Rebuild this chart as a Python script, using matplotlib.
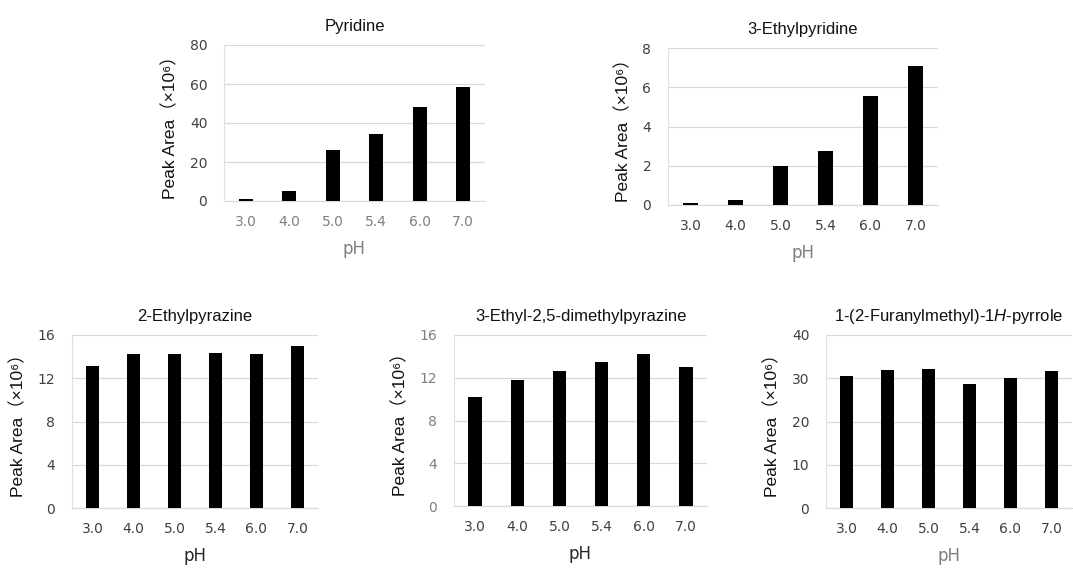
import matplotlib
matplotlib.use("Agg")
import matplotlib.pyplot as plt
import numpy as np

plt.rcParams['font.family'] = ['Liberation Sans', 'DejaVu Sans']
plt.rcParams['mathtext.fontset'] = 'custom'
plt.rcParams['mathtext.it'] = 'Liberation Sans:italic'
plt.rcParams['mathtext.rm'] = 'Liberation Sans'

# データ
ph_labels = ['3.0', '4.0', '5.0', '5.4', '6.0', '7.0']

pyridine = [1.2, 4.9, 25.9, 34.4, 48.2, 58.3]
ethylpyridine = [0.08, 0.24, 1.97, 2.75, 5.56, 7.08]
ethylpyrazine = [13.1, 14.2, 14.2, 14.35, 14.2, 14.95]
ethyl_dimethylpyrazine = [10.2, 11.75, 12.65, 13.5, 14.25, 13.05]
furanylmethyl_pyrrole = [30.5, 31.9, 32.05, 28.6, 29.95, 31.65]

titles = ['Pyridine', '3-Ethylpyridine', '2-Ethylpyrazine',
          '3-Ethyl-2,5-dimethylpyrazine', r'1-(2-Furanylmethyl)-1$\mathit{H}$-pyrrole']
series = [pyridine, ethylpyridine, ethylpyrazine, ethyl_dimethylpyrazine, furanylmethyl_pyrrole]
ymax = [80, 8, 16, 16, 40]
ystep = [20, 2, 4, 4, 10]

W, H = 1073, 568
# left, right, top, bottom (px)
boxes = [(224, 485, 45, 201), (668, 938, 48, 205),
         (72, 318, 335, 508), (454, 707, 335, 506), (826, 1072, 335, 508)]
xtick_col = ['#7f7f7f', '#404040', '#404040', '#404040', '#404040']
ytick_col = ['#404040', '#404040', '#404040', '#7f7f7f', '#404040']
ph_col = ['#7f7f7f', '#7f7f7f', '#262626', '#262626', '#7f7f7f']

fig = plt.figure(figsize=(W / 100, H / 100), dpi=100)

for i, (l, r, t, b) in enumerate(boxes):
    ax = fig.add_axes([l / W, 1 - b / H, (r - l) / W, (b - t) / H])
    x = np.arange(len(ph_labels))
    ax.bar(x, series[i], width=0.32, color='black', zorder=3)
    ax.set_xlim(-0.5, len(ph_labels) - 0.5)
    ax.set_ylim(0, ymax[i])
    ax.set_yticks(np.arange(0, ymax[i] + ystep[i] / 2, ystep[i]))
    ax.set_xticks(x)
    ax.set_xticklabels(ph_labels)
    ax.grid(axis='y', color='#d9d9d9', linewidth=0.9, zorder=0)
    for s in ['top', 'right']:
        ax.spines[s].set_visible(False)
    ax.spines['left'].set_color('#e0e0e0')
    ax.spines['bottom'].set_color('#d9d9d9')
    ax.tick_params(length=0, labelsize=10, pad=10)
    ax.tick_params(axis='y', pad=12)
    for lb in ax.get_xticklabels():
        lb.set_color(xtick_col[i])
        lb.set_family('DejaVu Sans')
    for lb in ax.get_yticklabels():
        lb.set_color(ytick_col[i])
        lb.set_family('DejaVu Sans')
    ax.set_title(titles[i], fontsize=12, color='#111111', pad=10)
    ax.set_xlabel('pH', fontsize=12, color=ph_col[i], labelpad=8,
                  family='DejaVu Sans')
    ax.set_ylabel('Peak Area（×10⁶）', fontsize=12.5, color='#111111', labelpad=8,
                  family=['Liberation Sans', 'Noto Sans CJK JP', 'DejaVu Sans'])

fig.savefig('out.png', dpi=100)
